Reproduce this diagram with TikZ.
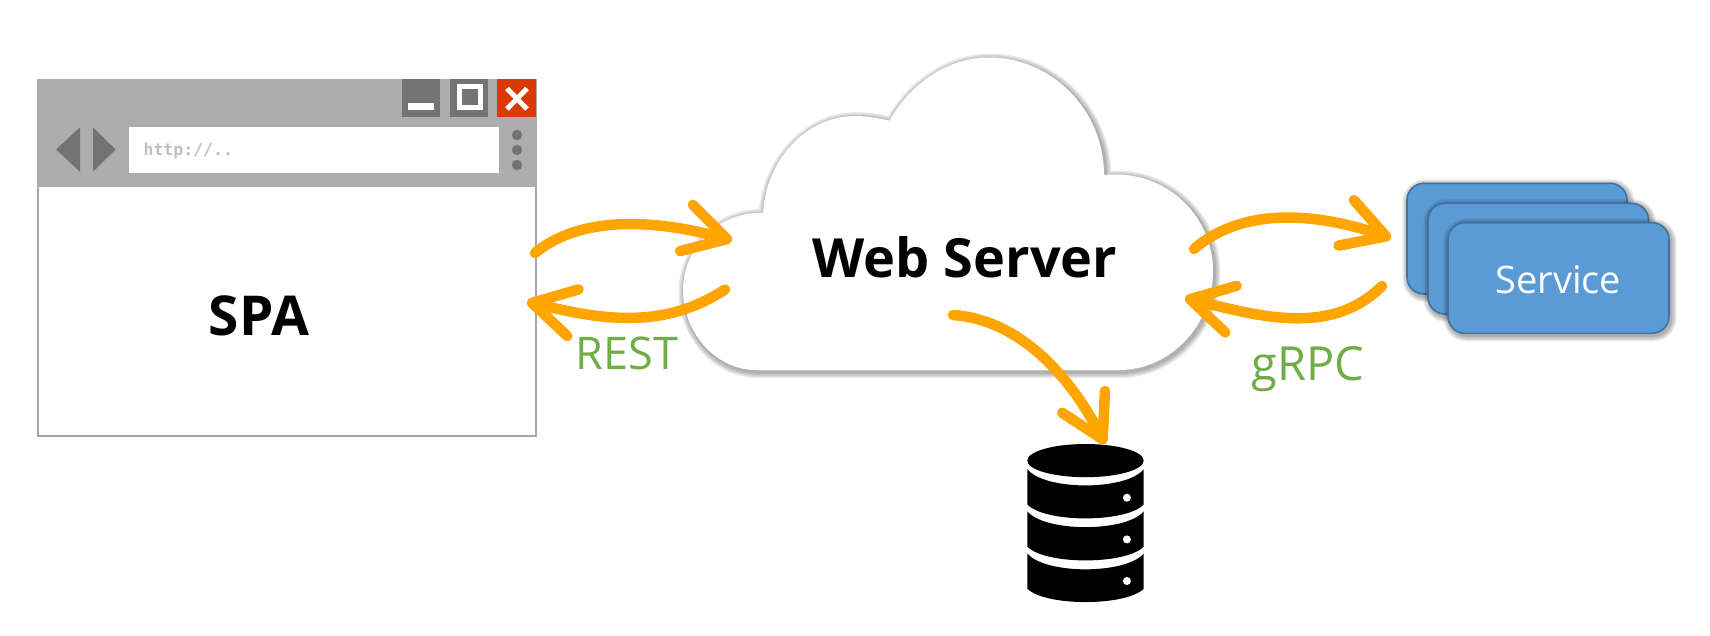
\documentclass[tikz,border=0pt]{standalone}
\usepackage{fontspec}
\setmainfont{Open Sans}
\newfontfamily\urlfont{DejaVu Sans Mono}
\usetikzlibrary{arrows.meta}
\definecolor{barGray}{HTML}{ADADAD}
\definecolor{btnGray}{HTML}{737373}
\definecolor{frameGray}{HTML}{A6A6A6}
\definecolor{closeRed}{HTML}{D83B01}
\definecolor{urlGray}{HTML}{BFBFBF}
\definecolor{flowOrange}{HTML}{FFA500}
\definecolor{labelGreen}{HTML}{70AD47}
\definecolor{svcBlue}{HTML}{5B9BD5}
\definecolor{svcEdge}{HTML}{41719C}
\newcommand{\cloudoutline}{(756,370) .. controls (716,370) and (683,333) .. (683,290)
  .. controls (683,248) and (718,211) .. (763,213)
  .. controls (766,160) and (806,116) .. (855,116)
  .. controls (867,116) and (878,118) .. (889.6,120.7)
  .. controls (910,84) and (947,57.5) .. (989,57.5)
  .. controls (1052,57.5) and (1104,110) .. (1104,175)
  .. controls (1108,174.6) and (1112,174.5) .. (1116,174.5)
  .. controls (1170,174.5) and (1213,218) .. (1213,271)
  .. controls (1213,325) and (1170,370) .. (1119,370) -- cycle}
\newcommand{\softshadow}[1]{\foreach \w in {12,9,6,3}{\draw[line width=\w pt,black,opacity=.085,line join=round,shift={(1.5pt,-2pt)}] #1;}}
\newcommand{\svccard}[4]{\softshadow{[rounded corners=17pt] (#1,#2) rectangle (#3,#4)}
  \draw[svcbox] (#1,#2) rectangle (#3,#4);}
\newcommand{\dbband}[4]{\fill[black] (1027.4,#1) .. controls (1045,#2) and (1126,#2) .. (1143.7,#1)
  -- (1143.7,#3) .. controls (1126,#4) and (1045,#4) .. (1027.4,#3) -- cycle;}
\tikzset{
  x=1pt,y=-1pt,
  flow/.style={draw=flowOrange,line width=10.5pt,line cap=round,
    -{Straight Barb[length=42pt,width=48pt,line width=10.5pt,round]}},
  txt/.style={inner sep=0pt,outer sep=0pt,anchor=base},
  svcbox/.style={draw=svcEdge,fill=svcBlue,line width=1.6pt,rounded corners=17pt},
  winbtn/.style={fill=btnGray},
}
\begin{document}
\begin{tikzpicture}
\useasboundingbox (0,0) rectangle (1710,635);
\fill[white] (0,0) rectangle (1710,635);
% browser window
\draw[frameGray,fill=white,line width=2pt] (38,186) rectangle (535.5,436);
\fill[barGray] (37,79) rectangle (536.5,186.5);
\fill[winbtn] (402,79) rectangle (440,117);
\fill[white] (408,102.7) rectangle (434,110);
\fill[winbtn] (450,79) rectangle (488,117);
\fill[white] (456.7,84) rectangle (482.5,110);
\fill[btnGray] (462,88.7) rectangle (477.5,105);
\fill[closeRed] (497,79) rectangle (535.5,117);
\draw[white,line width=5pt] (507,88.5) -- (527,109) (527,88.5) -- (507,109);
\fill[btnGray] (56,149.5) -- (80,127.3) -- (80,171.7) -- cycle;
\fill[btnGray] (115.6,149.5) -- (93,127.3) -- (93,171.7) -- cycle;
\fill[white] (129,127.3) rectangle (499,172.7);
\node[txt,anchor=base west,text=urlGray] (url) at (143.6,155.5) {\urlfont\bfseries\fontsize{16.5}{16.5}\selectfont http://..};
\fill[btnGray] (517,135) circle[radius=5.2pt] (517,150) circle[radius=5.2pt] (517,165) circle[radius=5.2pt];
\node[txt] (spa) at (259,335) {\bfseries\fontsize{55}{55}\selectfont SPA};
% cloud
\softshadow{\cloudoutline}
\fill[white] \cloudoutline;
\node[txt] (web) at (965,277) {\bfseries\fontsize{54}{54}\selectfont Web Server};
% services
\svccard{1407}{183.3}{1627}{294}
\svccard{1428}{203.3}{1648.6}{314}
\svccard{1448}{222.7}{1669}{333.3}
\node[txt,text=white] (svc) at (1558.4,293.5) {\fontsize{38}{38}\selectfont Service};
% database
\fill[black] (1085.5,460.6) ellipse[x radius=58.2pt,y radius=16.6pt];
\dbband{469.3}{490.8}{504.5}{523}
\dbband{511.4}{532.4}{546.6}{565}
\dbband{553.5}{574.6}{588.7}{606.5}
\fill[white] (1126.9,497.7) circle[radius=4pt] (1126.9,539.4) circle[radius=4pt] (1126.9,581) circle[radius=4pt];
% anchors of connectors
\coordinate (spaOut) at (535,253);
\coordinate (cloudIn) at (732,240.5);
\coordinate (cloudOut) at (725,289.5);
\coordinate (spaIn) at (527,301.7);
\coordinate (webOutR) at (1194,249);
\coordinate (svcIn) at (1391,238);
\coordinate (svcOut) at (1382,286);
\coordinate (webInR) at (1185,298);
\coordinate (webOutD) at (953,315);
\coordinate (dbIn) at (1105,444);
\draw[flow] (spaOut) .. controls (585,212) and (665,222) .. (cloudIn);
\draw[flow] (cloudOut) .. controls (660,332) and (595,318) .. (spaIn);
\draw[flow] (webOutR) .. controls (1245,205) and (1320,214) .. (svcIn);
\draw[flow] (svcOut) .. controls (1330,338) and (1255,315) .. (webInR);
\draw[flow] (webOutD) .. controls (1025,320) and (1075,385) .. (dbIn);
% labels
\node[txt,text=labelGreen] (rest) at (627,369) {\fontsize{45}{45}\selectfont REST};
\node[txt,text=labelGreen] (grpc) at (1307.7,380) {\fontsize{47}{47}\selectfont gRPC};
\end{tikzpicture}
\end{document}
